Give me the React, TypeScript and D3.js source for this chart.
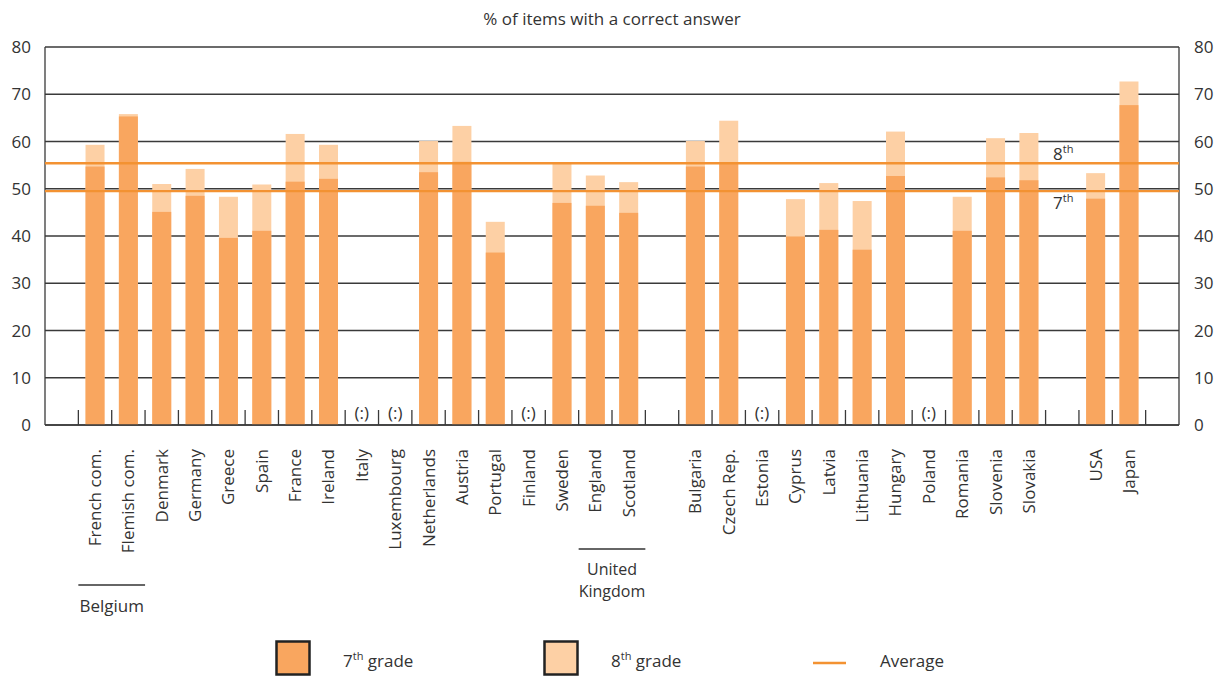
import React from "react";
import * as d3 from "d3";

const countries = [
  "French com.", "Flemish com.", "Denmark", "Germany", "Greece", "Spain", "France", "Ireland",
  "Italy", "Luxembourg", "Netherlands", "Austria", "Portugal", "Finland", "Sweden", "England", "Scotland",
  "Bulgaria", "Czech Rep.", "Estonia", "Cyprus", "Latvia", "Lithuania", "Hungary", "Poland",
  "Romania", "Slovenia", "Slovakia",
  "USA", "Japan",
];
// gaps are inserted after these categories
const gapAfter = ["Scotland", "Slovakia"];

const grade7: (number | null)[] = [
  54.7, 65.3, 45.1, 48.5, 39.6, 41.1, 51.5, 52.1,
  null, null, 53.5, 55.7, 36.5, null, 47.0, 46.4, 44.9,
  54.7, 55.6, null, 39.9, 41.3, 37.1, 52.7, null,
  41.1, 52.4, 51.8,
  47.9, 67.7,
];
const grade8: (number | null)[] = [
  59.3, 65.8, 51.0, 54.2, 48.3, 50.9, 61.6, 59.3,
  null, null, 60.1, 63.3, 43.0, null, 55.5, 52.8, 51.4,
  60.1, 64.4, null, 47.8, 51.2, 47.4, 62.1, null,
  48.3, 60.7, 61.8,
  53.3, 72.7,
];
const average7 = 49.5;
const average8 = 55.4;
const yTicks = [0, 10, 20, 30, 40, 50, 60, 70, 80];
const groups = [
  { label: ["Belgium"], from: "French com.", to: "Flemish com." },
  { label: ["United", "Kingdom"], from: "England", to: "Scotland" },
];

const C7 = "#F9A65F";
const C8 = "#FDD0A5";
const CAVG = "#F39232";
const TXT = "#333333";
const FONT = "'Open Sans', 'Noto Sans', sans-serif";

export default function App() {
  const W = 1227, H = 677;
  const left = 45, right = 1179, top = 47, bottom = 425;

  const slots: string[] = ["_padL"];
  countries.forEach((c) => {
    slots.push(c);
    if (gapAfter.includes(c)) slots.push("_gap_" + c);
  });
  slots.push("_padR");

  const x = d3.scaleBand<string>().domain(slots).range([left, right]).padding(0);
  const y = d3.scaleLinear().domain([0, 80]).range([bottom, top]);
  const bw = x.bandwidth();
  const barW = 19;

  const tickXs = slots.slice(1).map((s) => x(s)!);

  return (
    <svg width={W} height={H} style={{ display: "block", position: "absolute", left: 0, top: 0 }} fontFamily={FONT}>
      <text x={612} y={25} textAnchor="middle" fontSize={17} fill={TXT}>% of items with a correct answer</text>

      {/* grid */}
      {yTicks.map((t) => (
        <line key={"g" + t} x1={left} x2={right} y1={y(t)} y2={y(t)} stroke="#3a3a3a" strokeWidth={1.3} />
      ))}
      {/* axis frame */}
      <line x1={left} x2={left} y1={top} y2={bottom} stroke="#3a3a3a" strokeWidth={1.3} />
      <line x1={right} x2={right} y1={top} y2={bottom} stroke="#3a3a3a" strokeWidth={1.3} />
      {tickXs.map((tx, i) => (
        <line key={"t" + i} x1={tx} x2={tx} y1={bottom - 15} y2={bottom} stroke="#3a3a3a" strokeWidth={1.3} />
      ))}

      {/* y labels */}
      {yTicks.map((t) => (
        <g key={"yl" + t}>
          <text x={31} y={y(t) + 6} textAnchor="end" fontSize={17} fill={TXT}>{t}</text>
          <text x={1194} y={y(t) + 6} textAnchor="start" fontSize={17} fill={TXT}>{t}</text>
        </g>
      ))}

      {/* bars */}
      {countries.map((c, i) => {
        const cx = x(c)! + bw / 2;
        const v7 = grade7[i];
        const v8 = grade8[i];
        if (v7 == null || v8 == null) {
          return (
            <text key={c} x={cx} y={419} textAnchor="middle" fontSize={17} fill={TXT}>(:)</text>
          );
        }
        return (
          <g key={c}>
            <rect x={cx - barW / 2} y={y(v8)} width={barW} height={y(0) - y(v8)} fill={C8} />
            <rect x={cx - barW / 2} y={y(v7)} width={barW} height={y(0) - y(v7)} fill={C7} />
          </g>
        );
      })}
      <line x1={left} x2={right} y1={bottom} y2={bottom} stroke="#3a3a3a" strokeWidth={1.5} />

      {/* averages */}
      <line x1={left} x2={right} y1={y(average8)} y2={y(average8)} stroke={CAVG} strokeWidth={2.4} />
      <line x1={left} x2={right} y1={y(average7)} y2={y(average7)} stroke={CAVG} strokeWidth={2.4} />
      <text x={1053} y={160} fontSize={17} fill={TXT}>8<tspan fontSize={11} dy={-7}>th</tspan></text>
      <text x={1053} y={209} fontSize={17} fill={TXT}>7<tspan fontSize={11} dy={-7}>th</tspan></text>

      {/* category labels */}
      {countries.map((c) => {
        const cx = x(c)! + bw / 2;
        return (
          <text key={"l" + c} transform={`translate(${cx},449) rotate(-90)`} textAnchor="end" dy="0.35em" fontSize={17} fill={TXT}>{c}</text>
        );
      })}

      {/* groups */}
      {groups.map((g, i) => {
        const x1 = x(g.from)!;
        const x2 = x(g.to)! + bw;
        const mid = (x1 + x2) / 2;
        const ly = i === 0 ? 585 : 549;
        return (
          <g key={"grp" + i}>
            <line x1={x1} x2={x2} y1={ly} y2={ly} stroke={TXT} strokeWidth={1.3} />
            {g.label.map((t, j) => (
              <text key={j} x={mid} y={ly + (g.label.length > 1 ? 26 : 27) + j * 22} textAnchor="middle" fontSize={g.label.length > 1 ? 16 : 17} fill={TXT}>{t}</text>
            ))}
          </g>
        );
      })}

      {/* legend */}
      <rect x={276.5} y={641.5} width={33} height={33} fill={C7} stroke="#222" strokeWidth={2.5} />
      <text x={343} y={667} fontSize={17} fill={TXT}>7<tspan fontSize={11} dy={-7}>th</tspan><tspan dy={7}> grade</tspan></text>
      <rect x={544.5} y={641.5} width={33} height={33} fill={C8} stroke="#222" strokeWidth={2.5} />
      <text x={611} y={667} fontSize={17} fill={TXT}>8<tspan fontSize={11} dy={-7}>th</tspan><tspan dy={7}> grade</tspan></text>
      <line x1={813} x2={846} y1={663} y2={663} stroke={CAVG} strokeWidth={2.5} />
      <text x={880} y={667} fontSize={17} fill={TXT}>Average</text>
    </svg>
  );
}
